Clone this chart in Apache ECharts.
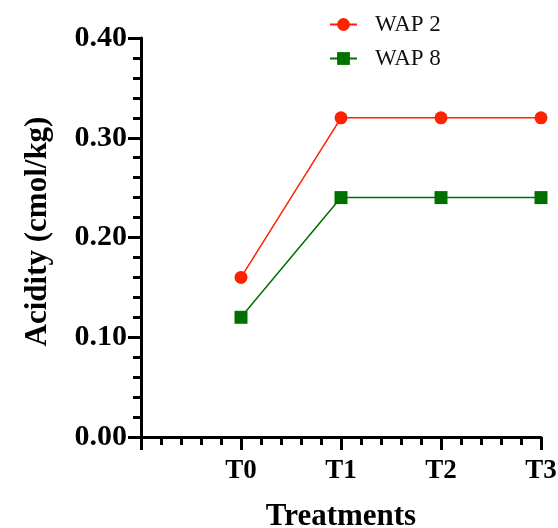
<!DOCTYPE html>
<html>
<head>
<meta charset="utf-8">
<script src="https://cdn.jsdelivr.net/npm/echarts@6/dist/echarts.min.js"></script>
<style>
  html, body { margin: 0; padding: 0; background: #fff; }
  #chart { width: 558px; height: 528px; }
</style>
</head>
<body>
<div id="chart"></div>
<script>
// categories sit at x = 0..3 on a value axis that starts at -1
const categories = ['T0', 'T1', 'T2', 'T3'];
const wap2 = [0.16, 0.32, 0.32, 0.32];
const wap8 = [0.12, 0.24, 0.24, 0.24];
const yTicks = [0, 0.1, 0.2, 0.3, 0.4];

const serif = '"Liberation Serif", "Times New Roman", serif';
const toPoints = vals => vals.map((v, i) => [i, v]);

let myChart = echarts.init(document.getElementById('chart'));
myChart.setOption({
  animation: false,
  textStyle: { fontFamily: serif },
  legend: {
    orient: 'vertical',
    left: 324,
    top: 8,
    itemWidth: 27,
    itemHeight: 16,
    itemGap: 11,
    textStyle: { fontFamily: serif, fontSize: 23, color: '#111', padding: [0, 0, 0, 13] },
    data: ['WAP 2', 'WAP 8']
  },
  grid: { left: 141, right: 17, top: 38, bottom: 91, outerBoundsMode: 'none' },
  xAxis: {
    type: 'value',
    min: -1,
    max: categories.length - 1,
    interval: 1,
    name: 'Treatments',
    nameLocation: 'middle',
    nameGap: 64,
    nameTextStyle: { fontFamily: serif, fontSize: 31, fontWeight: 'bold', color: '#000' },
    axisLine: { onZero: false, lineStyle: { color: '#000', width: 3 } },
    axisTick: { length: 13, lineStyle: { color: '#000', width: 3 } },
    minorTick: { show: true, splitNumber: 5, length: 8, lineStyle: { color: '#000', width: 3 } },
    splitLine: { show: false },
    axisLabel: {
      margin: 21,
      fontFamily: serif,
      fontSize: 27,
      fontWeight: 'bold',
      color: '#000',
      formatter: v => categories[v] || ''
    }
  },
  yAxis: {
    type: 'value',
    min: yTicks[0],
    max: yTicks[yTicks.length - 1],
    interval: 0.1,
    name: 'Acidity (cmol/kg)',
    nameLocation: 'middle',
    nameGap: 88,
    nameTextStyle: { fontFamily: serif, fontSize: 31, fontWeight: 'bold', color: '#000', padding: [0, 0, 0, 12] },
    axisLine: { show: true, onZero: false, lineStyle: { color: '#000', width: 3 } },
    axisTick: { show: true, length: 13, lineStyle: { color: '#000', width: 3 } },
    minorTick: { show: true, splitNumber: 5, length: 8, lineStyle: { color: '#000', width: 3 } },
    splitLine: { show: false },
    axisLabel: {
      margin: 14,
      fontFamily: serif,
      fontSize: 30,
      fontWeight: 'bold',
      color: '#000',
      formatter: v => v.toFixed(2)
    }
  },
  series: [
    {
      name: 'WAP 2',
      type: 'line',
      data: toPoints(wap2),
      symbol: 'circle',
      symbolSize: 13,
      itemStyle: { color: '#ff2200' },
      lineStyle: { color: '#ff2200', width: 1.5 }
    },
    {
      name: 'WAP 8',
      type: 'line',
      data: toPoints(wap8),
      symbol: 'rect',
      symbolSize: 13,
      itemStyle: { color: '#007000' },
      lineStyle: { color: '#007000', width: 1.5 }
    }
  ]
});
</script>
</body>
</html>
